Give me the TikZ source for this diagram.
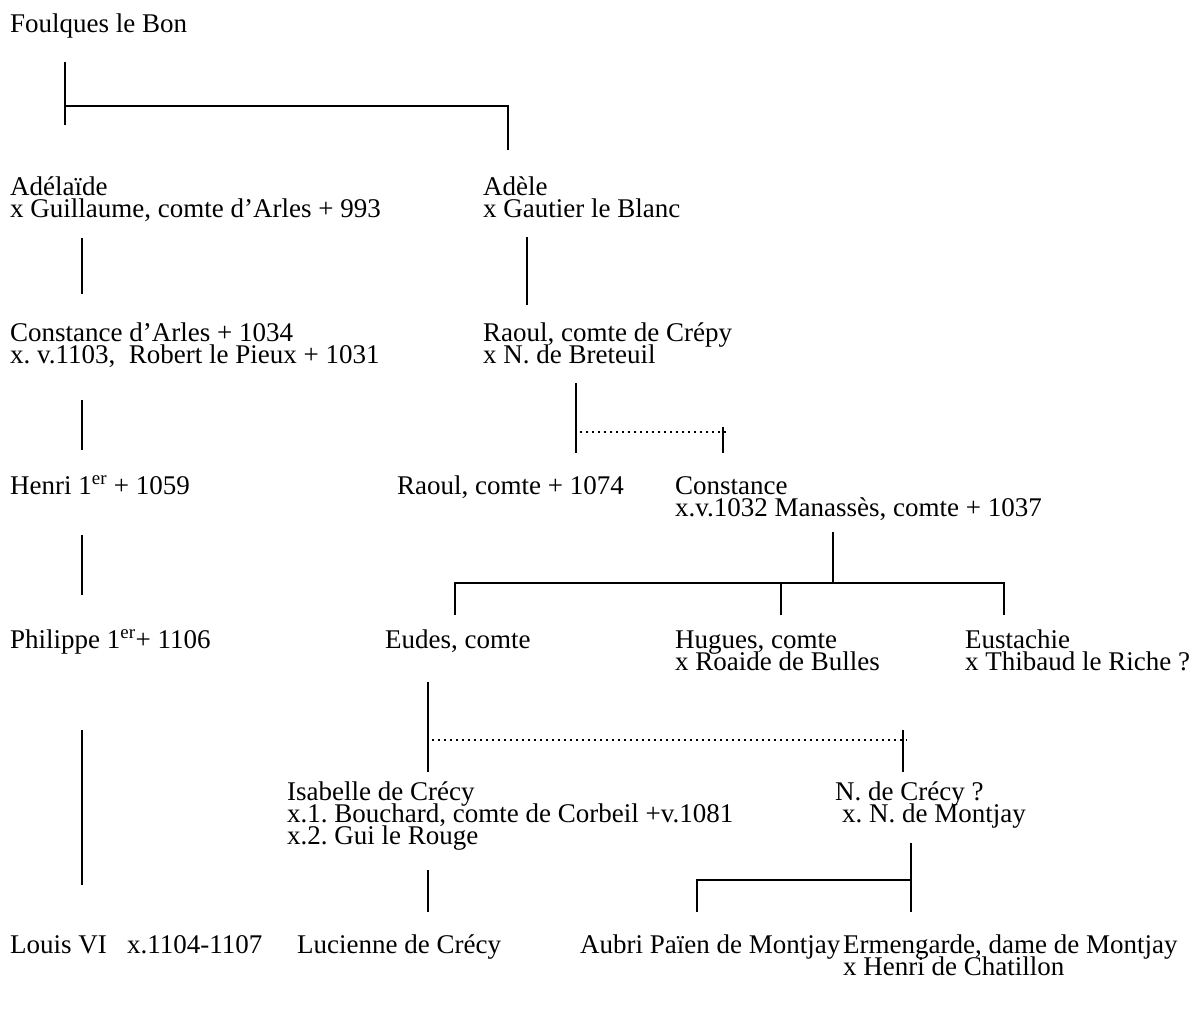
\documentclass[tikz,border=0pt]{standalone}
\usepackage{fontspec}
\setmainfont{Liberation Serif}
\begin{document}
\frenchspacing
\begin{tikzpicture}[x=1pt,y=-1pt,
  lbl/.style={anchor=base west, inner sep=0pt, font=\fontsize{27}{22}\selectfont},
  ln/.style={line width=1.6pt},
  dotln/.style={line width=1.5pt, dash pattern=on 1.5pt off 4.5pt}]
\useasboundingbox[fill=white] (0,0) rectangle (1195,1016);
% texts
\node[lbl] (foul) at (10,33) {Foulques le Bon};
\node[lbl] (adel1) at (10,196) {Adélaïde};
\node[lbl] (adel2) at (10,218) {x Guillaume, comte d’Arles + 993};
\node[lbl] (adele1) at (483,196) {Adèle};
\node[lbl] (adele2) at (483,218) {x Gautier le Blanc};
\node[lbl] (cons1) at (10,342) {Constance d’Arles + 1034};
\node[lbl] (cons2) at (10,364) {x. v.1103,\ \ Robert le Pieux + 1031};
\node[lbl] (raoul1) at (483,342) {Raoul, comte de Crépy};
\node[lbl] (raoul2) at (483,364) {x N. de Breteuil};
\node[lbl] (henri) at (10,494) {Henri 1\textsuperscript{er} + 1059};
\node[lbl] (raoulc) at (397,494) {Raoul, comte + 1074};
\node[lbl] (const1) at (675,494) {Constance};
\node[lbl] (const2) at (675,516) {x.v.1032 Manassès, comte + 1037};
\node[lbl] (phil) at (10,648) {Philippe 1\textsuperscript{er}+ 1106};
\node[lbl] (eudes) at (385,648) {Eudes, comte};
\node[lbl] (hug1) at (675,648) {Hugues, comte};
\node[lbl] (hug2) at (675,670) {x Roaide de Bulles};
\node[lbl] (eus1) at (965,648) {Eustachie};
\node[lbl] (eus2) at (965,670) {x Thibaud le Riche ?};
\node[lbl] (isa1) at (287,800) {Isabelle de Crécy};
\node[lbl] (isa2) at (287,822) {x.1. Bouchard, comte de Corbeil +v.1081};
\node[lbl] (isa3) at (287,844) {x.2. Gui le Rouge};
\node[lbl] (ncr1) at (835,800) {N. de Crécy ?};
\node[lbl] (ncr2) at (842,822) {x. N. de Montjay};
\node[lbl] (louis) at (10,953) {Louis VI\ \ \ x.1104-1107};
\node[lbl] (luc) at (297,953) {Lucienne de Crécy};
\node[lbl] (aubri) at (580,953) {Aubri Païen de Montjay};
\node[lbl] (erm1) at (843,953) {Ermengarde, dame de Montjay};
\node[lbl] (erm2) at (843,975) {x Henri de Chatillon};
% coordinates
\coordinate (f1) at (65,62);
\coordinate (f2) at (65,125);
\coordinate (f3) at (65,106);
\coordinate (f4) at (508,106);
\coordinate (f5) at (508,150);
\coordinate (a1) at (82,238);
\coordinate (a2) at (82,294);
\coordinate (b1) at (527,237);
\coordinate (b2) at (527,305);
\coordinate (c1) at (82,400);
\coordinate (c2) at (82,450);
\coordinate (r1) at (576,383);
\coordinate (r2) at (576,453);
\coordinate (r3) at (580,432);
\coordinate (r4) at (730,432);
\coordinate (r5) at (723,427);
\coordinate (r6) at (723,453);
\coordinate (h1) at (82,535);
\coordinate (h2) at (82,595);
\coordinate (k1) at (833,532);
\coordinate (k2) at (833,583);
\coordinate (k3) at (455,583);
\coordinate (k4) at (1004,583);
\coordinate (k5) at (455,615);
\coordinate (k6) at (781,583);
\coordinate (k7) at (781,615);
\coordinate (k8) at (1004,615);
\coordinate (p1) at (82,730);
\coordinate (p2) at (82,885);
\coordinate (e1) at (428,682);
\coordinate (e2) at (428,772);
\coordinate (e3) at (432,740);
\coordinate (e4) at (907,740);
\coordinate (e5) at (903,730);
\coordinate (e6) at (903,772);
\coordinate (i1) at (428,870);
\coordinate (i2) at (428,912);
\coordinate (n1) at (911,843);
\coordinate (n2) at (911,912);
\coordinate (n3) at (911,880);
\coordinate (n4) at (697,880);
\coordinate (n5) at (697,912);
% connectors
\draw[ln] (f1) -- (f2);
\draw[ln] (f3) -- (f4) -- (f5);
\draw[ln] (a1) -- (a2);
\draw[ln] (b1) -- (b2);
\draw[ln] (c1) -- (c2);
\draw[ln] (r1) -- (r2);
\draw[dotln] (r3) -- (r4);
\draw[ln] (r5) -- (r6);
\draw[ln] (h1) -- (h2);
\draw[ln] (k1) -- (k2);
\draw[ln] (k5) -- (k3) -- (k4) -- (k8);
\draw[ln] (k6) -- (k7);
\draw[ln] (p1) -- (p2);
\draw[ln] (e1) -- (e2);
\draw[dotln] (e3) -- (e4);
\draw[ln] (e5) -- (e6);
\draw[ln] (i1) -- (i2);
\draw[ln] (n1) -- (n2);
\draw[ln] (n3) -- (n4) -- (n5);
\end{tikzpicture}
\end{document}
